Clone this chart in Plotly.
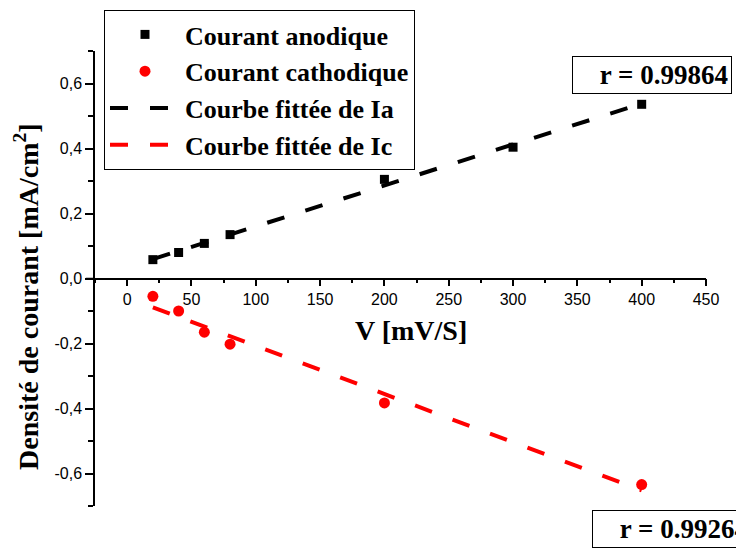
import numpy as np
import plotly.graph_objects as go

# ---- data ----
v_anod = [20, 40, 60, 80, 200, 300, 400]
i_anod = [0.058, 0.080, 0.108, 0.135, 0.305, 0.404, 0.536]
v_cath = [20, 40, 60, 80, 200, 400]
i_cath = [-0.055, -0.100, -0.165, -0.202, -0.383, -0.634]
r_anod = "r = 0.99864"
r_cath = "r = 0.99264"
x_ticks = [0, 50, 100, 150, 200, 250, 300, 350, 400, 450]
y_ticks = [-0.6, -0.4, -0.2, 0.0, 0.2, 0.4, 0.6]
y_tick_text = ["-0,6", "-0,4", "-0,2", "0,0", "0,2", "0,4", "0,6"]

# linear fits of the measured points
pa = np.polyfit(v_anod, i_anod, 1)
pc = np.polyfit(v_cath, i_cath, 1)
fit_x_a = [min(v_anod), max(v_anod)]
fit_x_c = [min(v_cath), max(v_cath)]
fit_y_a = list(np.polyval(pa, fit_x_a))
fit_y_c = list(np.polyval(pc, fit_x_c))

SERIF = "Liberation Serif"
SANS = "Liberation Sans"

fig = go.Figure()
fig.add_trace(go.Scatter(x=fit_x_a, y=fit_y_a, mode="lines",
                         name="<b>Courbe fittée de Ia</b>", legendrank=3,
                         line=dict(color="black", width=4, dash="18px,22px")))
fig.add_trace(go.Scatter(x=fit_x_c, y=fit_y_c, mode="lines",
                         name="<b>Courbe fittée de Ic</b>", legendrank=4,
                         line=dict(color="red", width=4, dash="18px,22px")))
fig.add_trace(go.Scatter(x=v_anod, y=i_anod, mode="markers",
                         name="<b>Courant anodique</b>", legendrank=1,
                         marker=dict(symbol="square", size=9, color="black")))
fig.add_trace(go.Scatter(x=v_cath, y=i_cath, mode="markers",
                         name="<b>Courant cathodique</b>", legendrank=2,
                         marker=dict(symbol="circle", size=11, color="red")))

fig.update_layout(
    width=736, height=551,
    margin=dict(l=95, r=29.5, t=51, b=45, autoexpand=False),
    paper_bgcolor="white", plot_bgcolor="white",
    showlegend=True,
    legend=dict(xref="container", yref="container",
                x=104 / 736, y=1 - 10 / 551, xanchor="left", yanchor="top",
                bordercolor="black", borderwidth=1, bgcolor="white",
                font=dict(family=SERIF, size=26, color="black"),
                itemwidth=70, traceorder="normal"),
    xaxis=dict(range=[-25, 450], anchor="free", position=0.5, automargin=False,
               showline=True, linecolor="black", linewidth=1.5,
               showgrid=False, zeroline=False,
               tickmode="array", tickvals=x_ticks,
               ticks="outside", ticklen=7, tickwidth=1.5, tickcolor="black",
               minor=dict(tickmode="linear", tick0=0, dtick=25, ticks="outside",
                          ticklen=4, tickwidth=1.5, tickcolor="black"),
               tickfont=dict(family=SANS, size=16, color="black")),
    yaxis=dict(range=[-0.7, 0.7], automargin=False,
               showline=True, linecolor="black", linewidth=1.5,
               showgrid=False, zeroline=False,
               tickmode="array", tickvals=y_ticks, ticktext=y_tick_text,
               ticks="outside", ticklen=8, tickwidth=1.5, tickcolor="black",
               minor=dict(tickmode="linear", tick0=-0.7, dtick=0.1, ticks="outside",
                          ticklen=5, tickwidth=1.5, tickcolor="black"),
               tickfont=dict(family=SANS, size=16, color="black")),
)

# small extension of the x axis line to the left of the y axis
fig.add_shape(type="line", xref="paper", yref="y", x0=-0.015, x1=0, y0=0, y1=0,
              line=dict(color="black", width=1.5))

fig.add_annotation(text="<b>V [mV/S]</b>", xref="x", yref="y", x=221, y=-0.16,
                   showarrow=False, xanchor="center", yanchor="middle",
                   font=dict(family=SERIF, size=28, color="black"))
fig.add_annotation(text="<b>Densité de courant [mA/cm<sup>2</sup>]</b>",
                   xref="paper", yref="paper", x=-0.111, y=0.46, textangle=-90,
                   showarrow=False, xanchor="center", yanchor="middle",
                   font=dict(family=SERIF, size=28, color="black"))
fig.add_annotation(text="<b>" + r_anod + "</b>", xref="paper", yref="paper",
                   x=(572 - 95) / 611.5, y=(506 - 56) / 455,
                   xanchor="left", yanchor="top", showarrow=False,
                   width=152, align="right", borderpad=3,
                   bordercolor="black", borderwidth=1, bgcolor="white",
                   font=dict(family=SERIF, size=27, color="black"))
fig.add_annotation(text="<b>" + r_cath + "</b>", xref="paper", yref="paper",
                   x=(592 - 95) / 611.5, y=(506 - 510) / 455,
                   xanchor="left", yanchor="top", showarrow=False,
                   width=152, align="right", borderpad=3,
                   bordercolor="black", borderwidth=1, bgcolor="white",
                   font=dict(family=SERIF, size=27, color="black"))

fig.write_html("out.html", config={"displayModeBar": False},
               post_script="document.body.style.margin='0px';document.body.style.overflow='hidden';")
